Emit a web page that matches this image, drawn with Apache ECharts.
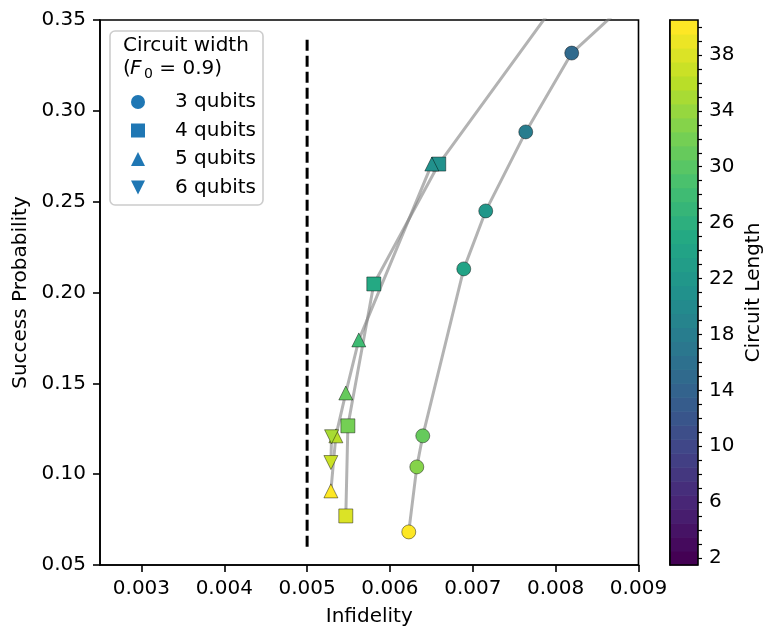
<!DOCTYPE html>
<html><head><meta charset="utf-8">
<script src="https://cdn.jsdelivr.net/npm/echarts@6/dist/echarts.min.js"></script>
<style>html,body{margin:0;padding:0;background:#fff}#c{width:777px;height:639px}</style>
</head><body><div id="c"></div>
<script>
const FONT = 'DejaVu Sans';

// 3 qubits (circles)
const q3Infid = [0.006227, 0.006324, 0.006396, 0.006891, 0.007156, 0.007639, 0.008194, 0.00928];
const q3Succ  = [0.0682, 0.1040, 0.1211, 0.2130, 0.2449, 0.2884, 0.3318, 0.3772];
const q3Len   = [40, 33, 31, 24, 22, 18, 15, 12];
// 4 qubits (squares)
const q4Infid = [0.005467, 0.005492, 0.005805, 0.006589, 0.00830];
const q4Succ  = [0.0770, 0.1266, 0.2047, 0.2707, 0.3779];
const q4Len   = [38, 32, 25, 21, 17];
// 5 qubits (triangles up)
const q5Infid = [0.005287, 0.005347, 0.005467, 0.005624, 0.006505];
const q5Succ  = [0.0908, 0.1211, 0.1447, 0.1739, 0.2707];
const q5Len   = [40, 36, 31, 28, 21];
// 6 qubits (triangles down)
const q6Infid = [0.005287, 0.005295];
const q6Succ  = [0.1064, 0.1206];
const q6Len   = [37, 35];

const thresholdX = [0.005, 0.005];
const thresholdY = [0.06, 0.34];

const xTicks = [0.003, 0.004, 0.005, 0.006, 0.007, 0.008, 0.009];
const yTicks = [0.05, 0.10, 0.15, 0.20, 0.25, 0.30, 0.35];
const cbLabels = [2, 6, 10, 14, 18, 22, 26, 30, 34, 38];
const cbLevels = [2,3,4,5,6,7,8,9,10,11,12,13,14,15,16,17,18,19,20,21,22,23,24,25,26,27,28,29,30,31,32,33,34,35,36,37,38,39,40];

const viridisStops = ['#440154','#482475','#414487','#355f8d','#2a788e','#21918c','#22a884','#44bf70','#7ad151','#bddf26','#fde725'];
function hx(h){return [parseInt(h.slice(1,3),16),parseInt(h.slice(3,5),16),parseInt(h.slice(5,7),16)];}
function viridis(t){
  t = Math.max(0, Math.min(1, t));
  const p = t*10; const i = Math.min(9, Math.floor(p)); const f = p - i;
  const a = hx(viridisStops[i]), b = hx(viridisStops[i+1]);
  const c = a.map((v,k)=>Math.round(v + (b[k]-v)*f));
  return 'rgb(' + c.join(',') + ')';
}
function lenColor(v){ return viridis((v - 2) / 38); }

function lineSeries(xs, ys){
  return {type:'line', data: xs.map((x,i)=>[x, ys[i]]), symbol:'none', silent:true,
    lineStyle:{color:'rgba(128,128,128,0.6)', width:3}, z:2, clip:true, animation:false};
}
function scatterSeries(name, symbol, xs, ys, ls){
  return {type:'scatter', name, symbol, symbolSize:14, z:3, clip:true, animation:false,
    itemStyle:{color:'#1f77b4', borderColor:'rgba(0,0,0,0.55)', borderWidth:0.8, opacity:1},
    data: xs.map((x,i)=>({value:[x, ys[i]], itemStyle:{color:lenColor(ls[i])}}))};
}
const downTri = 'path://M0,0L2,0L1,2Z';

const chart = echarts.init(document.getElementById('c'), null, {renderer:'canvas'});
chart.setOption({
  animation:false,
  backgroundColor:'#fff',
  textStyle:{fontFamily:FONT},
  grid:[
    {left:100, top:20, width:538.5, height:545, show:true, borderColor:'#000', borderWidth:1.6, backgroundColor:'transparent', containLabel:false},
    {left:670, top:20, width:28, height:545, show:false}
  ],
  xAxis:[
    {type:'value', gridIndex:0, min:0.0025, max:0.009, name:'Infidelity', nameLocation:'middle', nameGap:42,
     nameTextStyle:{fontFamily:FONT, fontSize:20, color:'#000'},
     axisLine:{show:true, onZero:false, lineStyle:{color:'#000', width:1.6}},
     axisTick:{show:true, length:7, lineStyle:{color:'#000', width:1.6}, customValues:xTicks},
     axisLabel:{show:true, margin:14, fontFamily:FONT, fontSize:20, color:'#000', customValues:xTicks, formatter:v=>v.toFixed(3)},
     splitLine:{show:false}},
    {type:'value', gridIndex:1, min:0, max:1, show:false}
  ],
  yAxis:[
    {type:'value', gridIndex:0, min:0.05, max:0.35, name:'Success Probability', nameLocation:'middle', nameGap:64, nameRotate:90,
     nameTextStyle:{fontFamily:FONT, fontSize:20, color:'#000'},
     axisLine:{show:true, onZero:false, lineStyle:{color:'#000', width:1.6}},
     axisTick:{show:true, length:7, lineStyle:{color:'#000', width:1.6}, customValues:yTicks},
     axisLabel:{show:true, margin:14, fontFamily:FONT, fontSize:20, color:'#000', customValues:yTicks, formatter:v=>v.toFixed(2)},
     splitLine:{show:false}},
    {type:'value', gridIndex:1, position:'right', min:1.5, max:40.5, name:'Circuit Length', nameLocation:'middle', nameGap:46, nameRotate:90,
     nameTextStyle:{fontFamily:FONT, fontSize:20, color:'#000'},
     axisLine:{show:true, lineStyle:{color:'#000', width:1.6}},
     axisTick:{show:true, length:7, lineStyle:{color:'#000', width:1.6}, customValues:cbLabels},
     axisLabel:{show:true, margin:11, fontFamily:FONT, fontSize:20, color:'#000', customValues:cbLabels},
     splitLine:{show:false}},
    {type:'value', gridIndex:1, position:'right', min:1.5, max:40.5,
     axisLine:{show:false},
     axisTick:{show:true, length:4, lineStyle:{color:'#000', width:1.2}, customValues:cbLevels},
     axisLabel:{show:false}, splitLine:{show:false}}
  ],
  legend:{
    orient:'vertical', left:131, top:92, itemWidth:14, itemHeight:14, itemGap:8.5, padding:0, z:10,
    selectedMode:false,
    textStyle:{fontFamily:FONT, fontSize:20, color:'#000', padding:[0,0,0,25]},
    data:[
      {name:'3 qubits', icon:'circle', itemStyle:{color:'#1f77b4', borderWidth:0}},
      {name:'4 qubits', icon:'rect', itemStyle:{color:'#1f77b4', borderWidth:0}},
      {name:'5 qubits', icon:'triangle', itemStyle:{color:'#1f77b4', borderWidth:0}},
      {name:'6 qubits', icon:downTri, itemStyle:{color:'#1f77b4', borderWidth:0}}
    ]
  },
  graphic:[
    {type:'rect', z:5, shape:{x:110, y:31, width:153, height:174, r:5},
     style:{fill:'rgba(255,255,255,0.8)', stroke:'#cccccc', lineWidth:1.6}},
    {type:'text', z:11, x:123, y:46, style:{text:'Circuit width', font:'20px "DejaVu Sans"', fill:'#000', verticalAlign:'middle'}},
    {type:'text', z:11, x:123, y:69, style:{text:'(', font:'20px "DejaVu Sans"', fill:'#000', verticalAlign:'middle'}},
    {type:'text', z:11, x:130, y:69, style:{text:'F', font:'italic 20px "DejaVu Sans"', fill:'#000', verticalAlign:'middle'}},
    {type:'text', z:11, x:144, y:74, style:{text:'0', font:'14px "DejaVu Sans"', fill:'#000', verticalAlign:'middle'}},
    {type:'text', z:11, x:153, y:69, style:{text:' = 0.9)', font:'20px "DejaVu Sans"', fill:'#000', verticalAlign:'middle'}}
  ],
  series:[
    lineSeries(q3Infid, q3Succ),
    lineSeries(q4Infid, q4Succ),
    lineSeries(q5Infid, q5Succ),
    lineSeries(q6Infid, q6Succ),
    {type:'line', data: thresholdX.map((x,i)=>[x, thresholdY[i]]), symbol:'none', silent:true, z:2,
     lineStyle:{color:'#000', width:3, type:[11,5]}},
    scatterSeries('3 qubits', 'circle', q3Infid, q3Succ, q3Len),
    scatterSeries('4 qubits', 'rect', q4Infid, q4Succ, q4Len),
    scatterSeries('5 qubits', 'triangle', q5Infid, q5Succ, q5Len),
    scatterSeries('6 qubits', downTri, q6Infid, q6Succ, q6Len),
    {type:'custom', xAxisIndex:1, yAxisIndex:1, silent:true, z:2,
     data: cbLevels.map(v=>[0, v]),
     renderItem:(params, api)=>{
       const v = api.value(1);
       const p0 = api.coord([0, v - 0.5]);
       const p1 = api.coord([1, v + 0.5]);
       return {type:'rect', shape:{x:p0[0], y:p1[1], width:p1[0]-p0[0], height:p0[1]-p1[1]+0.6},
               style:{fill:lenColor(v)}};
     }},
    {type:'custom', xAxisIndex:1, yAxisIndex:1, silent:true, z:4,
     data:[[0, 1.5]],
     renderItem:(params, api)=>{
       const p0 = api.coord([0, 1.5]);
       const p1 = api.coord([1, 40.5]);
       return {type:'rect', shape:{x:p0[0], y:p1[1], width:p1[0]-p0[0], height:p0[1]-p1[1]},
               style:{fill:'none', stroke:'#000', lineWidth:1.6}};
     }}
  ]
});
</script></body></html>
